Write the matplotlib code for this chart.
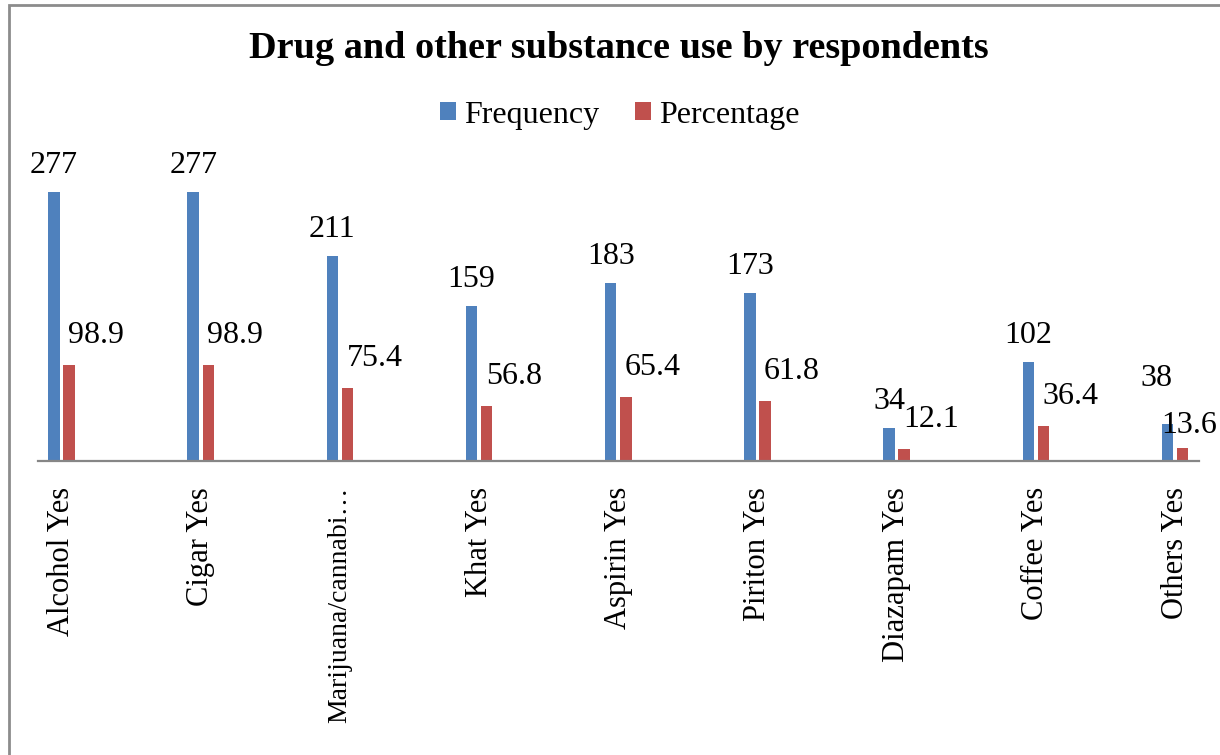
import matplotlib.pyplot as plt
import numpy as np
from matplotlib.patches import Rectangle

categories = ["Alcohol Yes", "Cigar Yes", "Marijuana/cannabi\u2026", "Khat Yes",
              "Aspirin Yes", "Piriton Yes", "Diazapam Yes", "Coffee Yes", "Others Yes"]
frequency = [277, 277, 211, 159, 183, 173, 34, 102, 38]
percentage = [98.9, 98.9, 75.4, 56.8, 65.4, 61.8, 12.1, 36.4, 13.6]

plt.rcParams['font.family'] = ['Liberation Serif', 'DejaVu Serif']

fig = plt.figure(figsize=(12.2, 7.55), dpi=100)
ax = fig.add_axes([38 / 1220, 294 / 755, 1161 / 1220, 311 / 755])

x = np.arange(len(categories))
w = 0.083
off = 0.0545
blue = "#4F81BD"
red = "#C0504D"
ax.bar(x - off, frequency, w, color=blue, label="Frequency")
ax.bar(x + off, percentage, w, color=red, label="Percentage")

ax.set_xlim(-0.169, 8.172)
ax.set_ylim(0, 320)

# value labels (Excel-like placement)
for i in range(len(categories)):
    if i == len(categories) - 1:
        fo, po = (-7.9, 27.4), (5, 10.8)
    else:
        fo, po = (0, 13.7), (19.4, 15.8)
    ax.annotate(f"{frequency[i]}", (x[i] - off, frequency[i]), xytext=fo,
                textcoords="offset points", ha="center", va="baseline", fontsize=23)
    ax.annotate(f"{percentage[i]}", (x[i] + off, percentage[i]), xytext=po,
                textcoords="offset points", ha="center", va="baseline", fontsize=23)

ax.set_xticks(x)
ax.set_xticklabels(categories, rotation=90, fontsize=22)
ax.get_xticklabels()[2].set_fontsize(20)  # truncated label, keep it inside the figure
ax.tick_params(axis="x", length=0, pad=18.7)
ax.set_yticks([])
for s in ["top", "right", "left"]:
    ax.spines[s].set_visible(False)
ax.spines["bottom"].set_color("#868686")
ax.spines["bottom"].set_linewidth(1.6)

fig.text(0.507, 1 - 49 / 755, "Drug and other substance use by respondents",
         ha="center", va="center", fontsize=27.5, fontweight="bold")

ax.legend(loc="center", bbox_to_anchor=(0.508, 1 - 115 / 755), bbox_transform=fig.transFigure,
          ncol=2, frameon=False, fontsize=23, handlelength=0.5, handleheight=0.5,
          handletextpad=0.25, columnspacing=1.1)

fig.add_artist(Rectangle((9 / 1220, -0.5), 2, 0.5 + 1 - 5 / 755, transform=fig.transFigure,
                         fill=False, edgecolor="#8C8C8C", linewidth=2, clip_on=False))

fig.savefig("out.png", dpi=100)
